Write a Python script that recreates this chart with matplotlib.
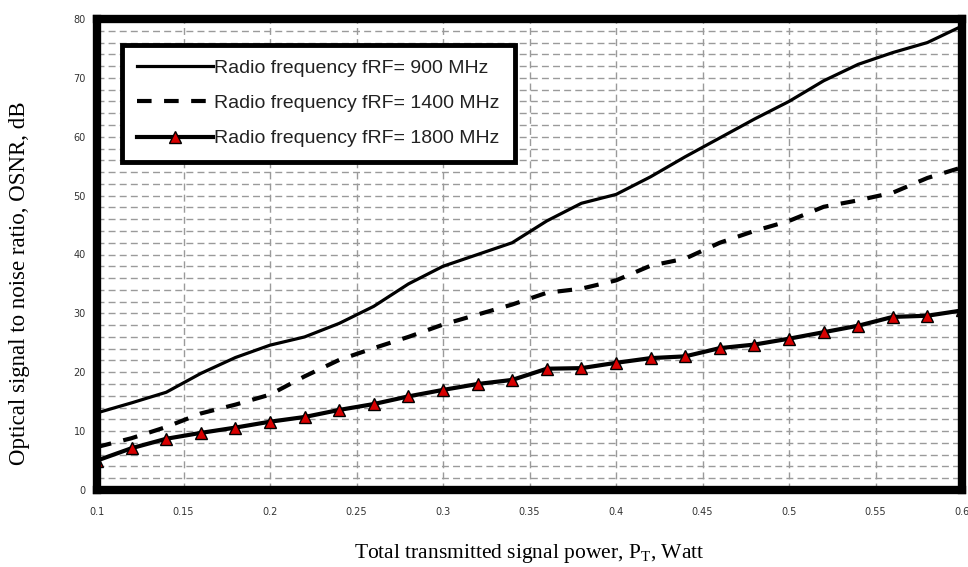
import matplotlib
matplotlib.use("Agg")
import matplotlib.pyplot as plt
import numpy as np

power = [0.10, 0.12, 0.14, 0.16, 0.18, 0.20, 0.22, 0.24, 0.26, 0.28, 0.30, 0.32, 0.34,
         0.36, 0.38, 0.40, 0.42, 0.44, 0.46, 0.48, 0.50, 0.52, 0.54, 0.56, 0.58, 0.60]
osnr_900 = [13.1, 14.8, 16.6, 19.8, 22.5, 24.6, 26.0, 28.3, 31.2, 35.0, 38.0, 40.0, 42.0,
            45.7, 48.7, 50.2, 53.2, 56.6, 59.8, 63.0, 66.0, 69.5, 72.3, 74.3, 76.0, 78.8]
osnr_1400 = [7.3, 8.8, 10.7, 13.0, 14.5, 16.2, 19.3, 22.1, 24.1, 26.0, 28.1, 29.8, 31.5,
             33.5, 34.2, 35.6, 38.1, 39.3, 42.0, 44.0, 45.7, 48.1, 49.2, 50.5, 53.0, 54.8]
osnr_1800 = [5.0, 7.1, 8.7, 9.7, 10.6, 11.6, 12.4, 13.6, 14.6, 15.9, 17.0, 18.0, 18.7,
             20.6, 20.7, 21.6, 22.4, 22.7, 24.1, 24.7, 25.7, 26.8, 27.9, 29.4, 29.6, 30.5]
labels = ["Radio frequency fRF= 900 MHz",
          "Radio frequency fRF= 1400 MHz",
          "Radio frequency fRF= 1800 MHz"]
xticks = [0.1, 0.15, 0.2, 0.25, 0.3, 0.35, 0.4, 0.45, 0.5, 0.55, 0.6]
xticklabels = ["0.1", "0.15", "0.2", "0.25", "0.3", "0.35", "0.4", "0.45", "0.5", "0.55", "0.6"]
yticks = [0, 10, 20, 30, 40, 50, 60, 70, 80]

fig = plt.figure(figsize=(9.68, 5.67), dpi=100)
ax = fig.add_axes([97/968, 1-490/567, 865/968, 471/567])

ax.plot(power, osnr_900, color="black", lw=2.3, label=labels[0])
ax.plot(power, osnr_1400, color="black", lw=3.0, ls=(0, (3.5, 3.0)), label=labels[1])
ax.plot(power, osnr_1800, color="black", lw=3.0, marker="^", markersize=8.5,
        markerfacecolor="#d80000", markeredgecolor="black", markeredgewidth=1.0,
        label=labels[2])

ax.set_xlim(0.1, 0.6)
ax.set_ylim(0, 80)
ax.set_xticks(xticks)
ax.set_xticklabels(xticklabels)
ax.set_yticks(yticks)
ax.set_yticks(np.arange(0, 81, 2), minor=True)
ax.tick_params(axis="both", which="both", length=0, labelsize=7, colors="#333333")
ax.tick_params(axis="x", pad=12)
ax.tick_params(axis="y", pad=8)

ax.grid(True, axis="x", which="major", color="#9a9a9a", ls=(0, (5, 3)), lw=1.0)
ax.grid(True, axis="y", which="both", color="#9a9a9a", ls=(0, (5, 3)), lw=1.0)
ax.set_axisbelow(True)

for s in ax.spines.values():
    s.set_linewidth(6)
    s.set_color("black")

leg = ax.legend(loc="upper left", bbox_to_anchor=(0.029, 0.945), borderaxespad=0,
                fancybox=False, framealpha=1, edgecolor="black", handlelength=3.9,
                handletextpad=0.1, labelspacing=0.9, borderpad=0.75,
                prop={"family": "Liberation Sans", "size": 14})
leg.get_frame().set_linewidth(3.5)
for t in leg.get_texts():
    t.set_color("#222222")

ax.set_xlabel("Total transmitted signal power, P$_\\mathregular{T}$, Watt",
              family="Liberation Serif", fontsize=15.5, labelpad=18)
ax.set_ylabel("Optical signal to noise ratio, OSNR, dB",
              family="Liberation Serif", fontsize=16.5)
ax.yaxis.set_label_coords(-0.078, 0.44)

fig.savefig("out.png", dpi=100)
